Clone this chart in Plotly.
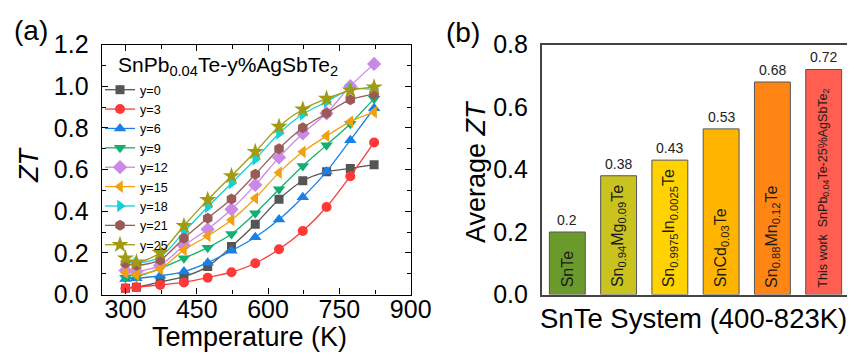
import plotly.graph_objects as go

# ---------------- Panel (a) data ----------------
temps = [300, 323, 373, 423, 473, 523, 573, 623, 673, 723, 773, 823]
series_names = ["y=0", "y=3", "y=6", "y=9", "y=12", "y=15", "y=18", "y=21", "y=25"]
zt_y0 = [0.03, 0.035, 0.06, 0.086, 0.134, 0.23, 0.337, 0.457, 0.546, 0.589, 0.605, 0.623]
zt_y3 = [0.03, 0.035, 0.046, 0.058, 0.081, 0.107, 0.15, 0.217, 0.305, 0.42, 0.568, 0.73]
zt_y6 = [0.075, 0.078, 0.09, 0.11, 0.153, 0.21, 0.275, 0.36, 0.467, 0.59, 0.741, 0.894]
zt_y9 = [0.08, 0.085, 0.125, 0.174, 0.225, 0.29, 0.39, 0.505, 0.617, 0.717, 0.82, 0.94]
zt_y12 = [0.115, 0.11, 0.14, 0.235, 0.313, 0.409, 0.526, 0.658, 0.773, 0.87, 1.0, 1.107]
zt_y15 = [0.105, 0.094, 0.123, 0.214, 0.281, 0.358, 0.462, 0.585, 0.685, 0.761, 0.83, 0.875]
zt_y18 = [0.16, 0.15, 0.18, 0.30, 0.42, 0.534, 0.649, 0.773, 0.865, 0.925, 0.985, 0.985]
zt_y21 = [0.15, 0.14, 0.166, 0.27, 0.366, 0.458, 0.577, 0.70, 0.80, 0.87, 0.935, 0.962]
zt_y25 = [0.174, 0.155, 0.20, 0.33, 0.454, 0.569, 0.685, 0.806, 0.889, 0.94, 0.98, 0.995]
zt_all = [zt_y0, zt_y3, zt_y6, zt_y9, zt_y12, zt_y15, zt_y18, zt_y21, zt_y25]
colors_a = ["#555555", "#ff3838", "#1a80e6", "#12b070", "#cc88e6",
            "#f0a010", "#12d0d6", "#9b5a5a", "#a09b12"]
symbols_a = ["square", "circle", "triangle-up", "triangle-down", "diamond",
             "triangle-left", "triangle-right", "hexagon", "star"]
sizes_a = [9, 10, 11, 11, 11, 11, 11, 11, 13]
legend_title = "SnPb<sub>0.04</sub>Te-y%AgSbTe<sub>2</sub>"

# ---------------- Panel (b) data ----------------
bar_labels = ["SnTe",
              "Sn<sub>0.94</sub>Mg<sub>0.09</sub>Te",
              "Sn<sub>0.9975</sub>In<sub>0.0025</sub>Te",
              "SnCd<sub>0.03</sub>Te",
              "Sn<sub>0.88</sub>Mn<sub>0.12</sub>Te",
              "This work  SnPb<sub>0.04</sub>Te-25%AgSbTe<sub>2</sub>"]
bar_values = [0.2, 0.38, 0.43, 0.53, 0.68, 0.72]
bar_value_text = ["0.2", "0.38", "0.43", "0.53", "0.68", "0.72"]
bar_colors = ["#6b9a2c", "#c9c21f", "#ffd200", "#ffb400", "#ff8614", "#ff5e50"]
bar_label_sizes = [16, 16, 16, 16, 16, 12.5]

FONT = "Liberation Sans, Arial, sans-serif"
# The page body has an 8px margin: the figure is drawn 8px right/down of the window corner.
OFF = 8
WIN_W, WIN_H = 855, 353
W, H = WIN_W - OFF, WIN_H - OFF


def fx(px):
    return (px - OFF) / W


def fy(py):
    return 1 - (py - OFF) / H


fig = go.Figure()

for name, vals, c, s, sz in zip(series_names, zt_all, colors_a, symbols_a, sizes_a):
    fig.add_trace(go.Scatter(
        x=temps, y=vals, name=name, mode="lines+markers",
        line=dict(color=c, width=1.3, shape="spline", smoothing=0.8),
        marker=dict(color=c, symbol=s, size=sz),
        xaxis="x", yaxis="y",
    ))

xpos = list(range(len(bar_values)))
fig.add_trace(go.Bar(
    x=xpos, y=bar_values, width=0.7,
    marker=dict(color=bar_colors, line=dict(color="#555555", width=1)),
    xaxis="x2", yaxis="y2", showlegend=False, hoverinfo="skip",
))

annotations = []
for xi, v, t, lab, fs in zip(xpos, bar_values, bar_value_text, bar_labels, bar_label_sizes):
    annotations.append(dict(x=xi, y=v, xref="x2", yref="y2", text=t, showarrow=False,
                            yanchor="bottom", xanchor="center", yshift=2,
                            font=dict(family=FONT, size=14, color="#222222")))
    annotations.append(dict(x=xi, y=0, xref="x2", yref="y2", text=lab, showarrow=False,
                            textangle=-90, yanchor="bottom", xanchor="center", yshift=5,
                            font=dict(family=FONT, size=fs, color="#1a1a1a")))


def paper_note(text, px, py, size, angle=0, xanchor="center"):
    return dict(x=fx(px), y=fy(py), xref="paper", yref="paper", text=text,
                showarrow=False, xanchor=xanchor, yanchor="middle", textangle=angle,
                font=dict(family=FONT, size=size, color="black"))


annotations += [
    paper_note("(a)", 31, 31, 28),
    paper_note("(b)", 463, 33, 28),
    paper_note("<i>ZT</i>", 29, 165, 27, -90),
    paper_note("Temperature (K)", 249, 337, 27),
    paper_note("Average <i>ZT</i>", 476, 171, 27, -90),
    paper_note("SnTe System (400-823K)", 693, 318, 27.5),
    paper_note(legend_title, 116, 66, 21, xanchor="left"),
]

y_dom = [fy(294.5), fy(44.5)]

fig.update_layout(
    width=W, height=H,
    margin=dict(l=0, r=0, t=0, b=0, autoexpand=False),
    paper_bgcolor="white", plot_bgcolor="white",
    font=dict(family=FONT, color="black"),
    showlegend=True,
    legend=dict(
        x=fx(100), y=fy(75), xanchor="left", yanchor="top",
        bgcolor="rgba(0,0,0,0)",
        font=dict(family=FONT, size=12.6),
        tracegroupgap=0,
    ),
    xaxis=dict(
        domain=[fx(101.7), fx(410.7)], anchor="y", automargin=False,
        range=[250, 900], tickvals=[300, 450, 600, 750, 900],
        ticks="inside", ticklen=6, tickwidth=1.2, tickcolor="black",
        minor=dict(ticks="inside", ticklen=4, tickwidth=1, tickcolor="black", dtick=75, tick0=300),
        showline=True, linecolor="black", linewidth=1.3, mirror="ticks",
        showgrid=False, zeroline=False,
        tickfont=dict(family=FONT, size=25), ticklabelstandoff=-8,
    ),
    yaxis=dict(
        domain=y_dom, anchor="x", automargin=False,
        range=[0, 1.2], tickvals=[0, 0.2, 0.4, 0.6, 0.8, 1.0, 1.2],
        ticktext=["0.0", "0.2", "0.4", "0.6", "0.8", "1.0", "1.2"],
        ticks="inside", ticklen=6, tickwidth=1.2, tickcolor="black",
        minor=dict(ticks="inside", ticklen=4, tickwidth=1, tickcolor="black", dtick=0.1, tick0=0),
        showline=True, linecolor="black", linewidth=1.3, mirror="ticks",
        showgrid=False, zeroline=False,
        tickfont=dict(family=FONT, size=25), ticklabelstandoff=7,
    ),
    xaxis2=dict(
        domain=[fx(541.7), fx(849.3)], anchor="y2", automargin=False,
        range=[-0.5, 5.5], showticklabels=False, ticks="",
        showline=True, linecolor="#444444", linewidth=1.5, mirror=True,
        showgrid=False, zeroline=False,
    ),
    yaxis2=dict(
        domain=y_dom, anchor="x2", automargin=False,
        range=[0, 0.8], tickvals=[0, 0.2, 0.4, 0.6, 0.8],
        ticktext=["0.0", "0.2", "0.4", "0.6", "0.8"], ticks="",
        showline=True, linecolor="#444444", linewidth=1.5, mirror=True,
        showgrid=False, zeroline=False,
        tickfont=dict(family=FONT, size=25), ticklabelstandoff=7,
    ),
    annotations=annotations,
)

fig.write_html("out.html")
